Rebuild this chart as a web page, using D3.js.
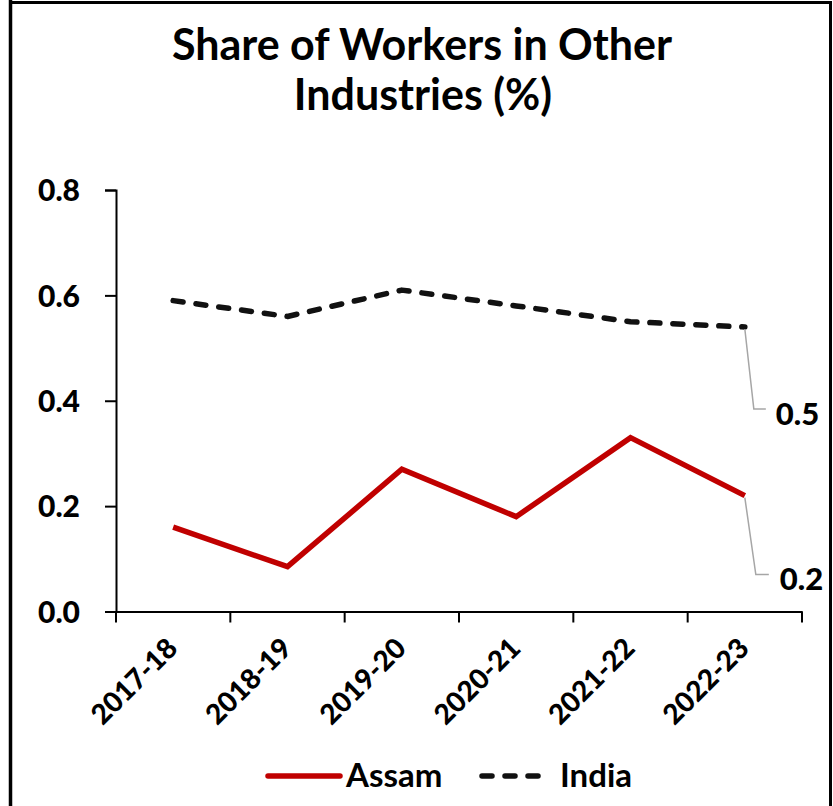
<!DOCTYPE html>
<html>
<head>
<meta charset="utf-8">
<script src="https://cdn.jsdelivr.net/npm/d3@7"></script>
<style>
  html, body { margin: 0; padding: 0; background: #fff; }
  svg { display: block; }
  text { font-family: Lato, "Open Sans", sans-serif; font-weight: 900; fill: #000; }
</style>
</head>
<body>
<svg id="chart" width="833" height="806"></svg>
<script>
const categories = ["2017-18", "2018-19", "2019-20", "2020-21", "2021-22", "2022-23"];
const assam = [0.16, 0.085, 0.27, 0.18, 0.33, 0.22];
const india = [0.59, 0.56, 0.61, 0.58, 0.55, 0.54];
const yTicks = [0.0, 0.2, 0.4, 0.6, 0.8];
const titleLines = ["Share of Workers in Other", "Industries (%)"];
const seriesNames = ["Assam", "India"];

const svg = d3.select("#chart");
const W = 833, H = 806;

// frame borders
svg.append("line").attr("x1", 10.5).attr("x2", 10.5).attr("y1", 0).attr("y2", H)
  .attr("stroke", "#000").attr("stroke-width", 3.5);
svg.append("line").attr("x1", 9).attr("x2", 832).attr("y1", 2.5).attr("y2", 2.5)
  .attr("stroke", "#000").attr("stroke-width", 3);
svg.append("line").attr("x1", 830.5).attr("x2", 830.5).attr("y1", 1).attr("y2", H)
  .attr("stroke", "#000").attr("stroke-width", 3);

// title
svg.append("text").attr("x", 422).attr("y", 60).attr("text-anchor", "middle")
  .style("font-size", "43px").style("font-weight", "bold").text(titleLines[0]);
svg.append("text").attr("x", 423).attr("y", 110).attr("text-anchor", "middle")
  .style("font-size", "43px").style("font-weight", "bold").text(titleLines[1]);

const x = d3.scaleBand().domain(categories).range([116, 802]).padding(0);
const y = d3.scaleLinear().domain([0, 0.8]).range([611.5, 190]);
const cx = d => x(d) + x.bandwidth() / 2;

// y axis
const yAxis = svg.append("g").attr("transform", "translate(116,0)")
  .call(d3.axisLeft(y).tickValues(yTicks).tickSize(11).tickPadding(25).tickFormat(d3.format(".1f")));
yAxis.select(".domain").attr("stroke", "#000").attr("stroke-width", 2);
yAxis.selectAll(".tick line").attr("stroke", "#000").attr("stroke-width", 2);
yAxis.selectAll(".tick text").style("font-size", "30px").style("font-family", "Lato, sans-serif")
  .style("font-weight", "900").attr("dy", "0.36em");

// x axis
const xAxis = svg.append("g").attr("transform", "translate(0,611.5)")
  .call(d3.axisBottom(x).tickSize(0).tickFormat(""));
xAxis.select(".domain").attr("stroke", "#000").attr("stroke-width", 2);
const bounds = categories.map(d => x(d)).concat([x(categories[categories.length - 1]) + x.bandwidth()]);
xAxis.selectAll(".bt").data(bounds).enter().append("line")
  .attr("x1", d => d).attr("x2", d => d).attr("y1", 0).attr("y2", 11)
  .attr("stroke", "#000").attr("stroke-width", 2);

svg.append("g").selectAll("text").data(categories).enter().append("text")
  .attr("text-anchor", "end")
  .attr("transform", d => `translate(${cx(d) + 6},${650}) rotate(-45)`)
  .style("font-size", "28px")
  .text(d => d);

// lines
const line = d3.line().x((d, i) => cx(categories[i])).y(d => y(d));
svg.append("path").datum(india).attr("d", line)
  .attr("fill", "none").attr("stroke", "#111").attr("stroke-width", 5.5)
  .attr("stroke-dasharray", "10,13").attr("stroke-linecap", "round").attr("stroke-linejoin", "round");
svg.append("path").datum(assam).attr("d", line)
  .attr("fill", "none").attr("stroke", "#C00000").attr("stroke-width", 5.5)
  .attr("stroke-linecap", "butt").attr("stroke-linejoin", "miter");

// data labels with leader lines (last point)
const last = categories.length - 1;
const fmt = d3.format(".1f");
const labels = [
  { v: india[last], dx1: 9, dy1: 82, dx2: 21, tx: 31, ty: 98 },
  { v: assam[last], dx1: 11, dy1: 79, dx2: 24, tx: 35, ty: 94 }
];
labels.forEach(l => {
  const px = cx(categories[last]), py = y(l.v);
  svg.append("path")
    .attr("d", `M${px},${py + 2} L${px + l.dx1},${py + l.dy1} L${px + l.dx2},${py + l.dy1}`)
    .attr("fill", "none").attr("stroke", "#a6a6a6").attr("stroke-width", 1.5);
  svg.append("text").attr("x", px + l.tx).attr("y", py + l.ty)
    .style("font-size", "31px").text(fmt(l.v));
});

// legend
const lg = svg.append("g");
lg.append("line").attr("x1", 268).attr("x2", 340).attr("y1", 776).attr("y2", 776)
  .attr("stroke", "#C00000").attr("stroke-width", 5.5).attr("stroke-linecap", "round");
lg.append("text").attr("x", 346).attr("y", 787).style("font-size", "33px").style("font-weight", "bold").text(seriesNames[0]);
lg.append("line").attr("x1", 482).attr("x2", 542).attr("y1", 776).attr("y2", 776)
  .attr("stroke", "#111").attr("stroke-width", 5.5)
  .attr("stroke-dasharray", "10,13").attr("stroke-linecap", "round");
lg.append("text").attr("x", 560).attr("y", 787).style("font-size", "33px").style("font-weight", "bold").text(seriesNames[1]);
</script>
</body>
</html>
